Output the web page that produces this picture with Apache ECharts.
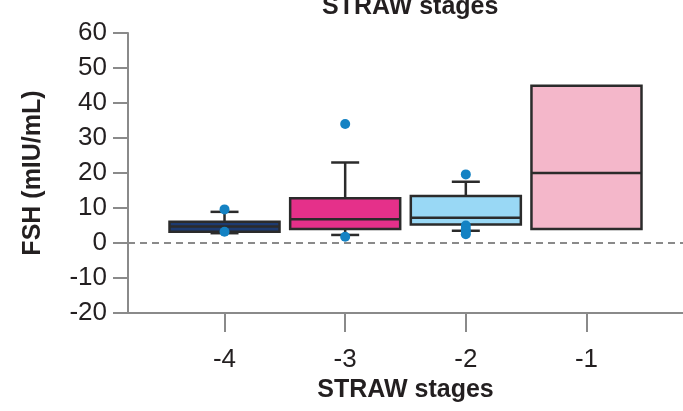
<!DOCTYPE html>
<html><head><meta charset="utf-8">
<script src="https://cdn.jsdelivr.net/npm/echarts@6/dist/echarts.min.js"></script>
<style>html,body{margin:0;padding:0;background:#fff}#c{width:683px;height:411px}</style>
</head><body><div id="c"></div>
<script>
const stages = [-4, -3, -2, -1];
const whiskerLow = [2.8, 2.3, 3.5, 4.0];
const quartile1 = [3.2, 4.0, 5.3, 4.0];
const medians = [4.7, 6.8, 7.2, 20.0];
const quartile3 = [6.1, 12.8, 13.4, 44.9];
const whiskerHigh = [8.9, 23.0, 17.5, 44.9];
const outlierStage = [-4, -4, -3, -3, -2, -2, -2, -2, -2];
const outlierValue = [9.6, 3.2, 34.0, 1.8, 19.6, 5.0, 4.0, 3.2, 2.5];
const yTicks = [-20, -10, 0, 10, 20, 30, 40, 50, 60];

const boxColors = ['#1d3a70', '#e5308a', '#99d8f5', '#f4b7ca'];
const FONT = '"Liberation Sans", Arial, sans-serif';

const boxData = stages.map((s, i) => [s, whiskerLow[i], quartile1[i], medians[i], quartile3[i], whiskerHigh[i]]);
const outData = outlierStage.map((s, i) => [s, outlierValue[i]]);

const chart = echarts.init(document.getElementById('c'), null, {renderer: 'canvas'});
chart.setOption({
  animation: false,
  backgroundColor: '#fff',
  title: {
    text: 'STRAW stages', left: 317, top: -10,
    textStyle: {fontFamily: FONT, fontSize: 25, fontWeight: 'bold', color: '#231f20'}
  },
  grid: {left: 128, right: 0, top: 33, bottom: 98, containLabel: false},
  xAxis: {
    type: 'value', min: -4.8, max: -0.2,
    name: 'STRAW stages', nameLocation: 'middle', nameGap: 59,
    nameTextStyle: {fontFamily: FONT, fontSize: 25, fontWeight: 'bold', color: '#231f20'},
    axisLine: {show: true, onZero: false, lineStyle: {color: '#8a8a8a', width: 2}},
    axisTick: {show: true, length: 19, customValues: stages, lineStyle: {color: '#8a8a8a', width: 2}},
    axisLabel: {customValues: stages, margin: 34, fontFamily: FONT, fontSize: 26, color: '#231f20', formatter: v => String(v)},
    splitLine: {show: false}
  },
  yAxis: {
    type: 'value', min: -20, max: 60, interval: 10,
    name: 'FSH (mIU/mL)', nameLocation: 'middle', nameGap: 82,
    nameTextStyle: {fontFamily: FONT, fontSize: 25, fontWeight: 'bold', color: '#231f20'},
    axisLine: {show: true, onZero: false, lineStyle: {color: '#8a8a8a', width: 2}},
    axisTick: {show: true, length: 15, lineStyle: {color: '#8a8a8a', width: 2}},
    axisLabel: {margin: 21, fontFamily: FONT, fontSize: 26, color: '#231f20'},
    splitLine: {show: false}
  },
  series: [
    {
      type: 'custom',
      data: boxData,
      encode: {x: 0, y: [1, 2, 3, 4, 5]},
      renderItem: function (params, api) {
        const x = api.value(0);
        const pLo = api.coord([x, api.value(1)]);
        const pQ1 = api.coord([x, api.value(2)]);
        const pMed = api.coord([x, api.value(3)]);
        const pQ3 = api.coord([x, api.value(4)]);
        const pHi = api.coord([x, api.value(5)]);
        const halfW = api.size([0.912, 0])[0] / 2;
        const capHalf = 14;
        const cx = pMed[0];
        const stroke = '#2b2b2b';
        const lw = 2.5;
        const children = [];
        const line = (x1, y1, x2, y2) => ({type: 'line', shape: {x1, y1, x2, y2}, style: {stroke, lineWidth: lw}});
        if (Math.abs(pHi[1] - pQ3[1]) > 0.5) {
          children.push(line(cx, pHi[1], cx, pQ3[1]));
          children.push(line(cx - capHalf, pHi[1], cx + capHalf, pHi[1]));
        }
        if (Math.abs(pLo[1] - pQ1[1]) > 0.5) {
          children.push(line(cx, pQ1[1], cx, pLo[1]));
          children.push(line(cx - capHalf, pLo[1], cx + capHalf, pLo[1]));
        }
        children.push({type: 'rect', shape: {x: cx - halfW, y: pQ3[1], width: halfW * 2, height: pQ1[1] - pQ3[1]},
          style: {fill: boxColors[params.dataIndex], stroke, lineWidth: lw}});
        children.push(line(cx - halfW, pMed[1], cx + halfW, pMed[1]));
        return {type: 'group', children};
      },
      markLine: {
        silent: true, symbol: 'none', label: {show: false},
        lineStyle: {color: '#8a8a8a', type: [7, 5], width: 2},
        data: [{yAxis: 0}],
        z: 1
      },
      z: 2
    },
    {
      type: 'scatter',
      data: outData,
      symbol: 'circle', symbolSize: 10,
      itemStyle: {color: '#1482c3', opacity: 1},
      z: 5
    }
  ]
});
</script></body></html>
